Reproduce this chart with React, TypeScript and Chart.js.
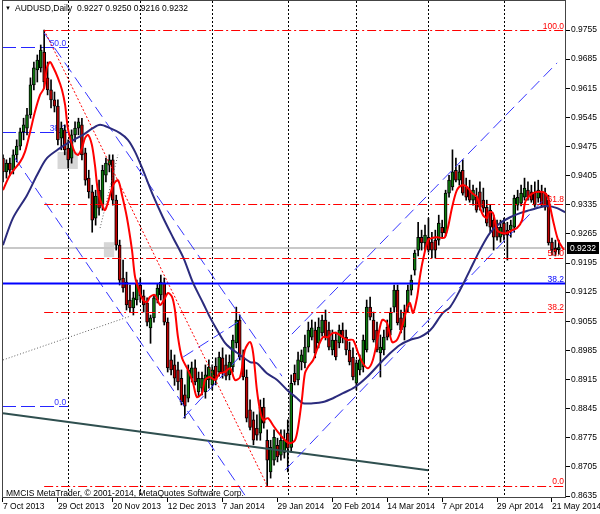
import React, { useEffect, useRef } from 'react';
import { Chart, registerables } from 'chart.js';
Chart.register(...registerables);

// ---------- data ----------
const symbolName = 'AUDUSD,Daily';
const copyright = 'MMCIS MetaTrader, \u00A9 2001-2014, MetaQuotes Software Corp.';

const opens = [
  0.9447,0.9414,0.9435,0.9418,0.9455,0.9476,0.9510,0.9519,0.9551,0.9623,
  0.9659,0.9664,0.9702,0.9640,0.9611,0.9587,0.9572,0.9495,0.9515,0.9471,
  0.9447,0.9503,0.9519,0.9527,0.9460,0.9399,0.9366,0.9303,0.9370,0.9334,
  0.9406,0.9430,0.9443,0.9346,0.9238,0.9159,0.9149,0.9106,0.9087,0.9106,
  0.9142,0.9116,0.9099,0.9039,0.9063,0.9106,0.9118,0.9147,0.9053,0.8962,
  0.8950,0.8938,0.8918,0.8878,0.8870,0.8918,0.8943,0.8885,0.8894,0.8885,
  0.8914,0.8902,0.8947,0.8933,0.8967,0.8950,0.8926,0.8945,0.9003,0.9058,
  0.8969,0.8921,0.8842,0.8818,0.8798,0.8786,0.8849,0.8769,0.8693,0.8721,
  0.8757,0.8733,0.8740,0.8786,0.8752,0.8930,0.8914,0.8957,0.8955,0.8993,
  0.9017,0.9034,0.9003,0.9027,0.9058,0.9034,0.8986,0.9010,0.9003,0.9034,
  0.9017,0.8986,0.8969,0.8906,0.8938,0.8945,0.8986,0.9089,0.9058,0.9034,
  0.8979,0.8986,0.9041,0.9034,0.9089,0.9130,0.9063,0.9041,0.9089,0.9130,
  0.9178,0.9226,0.9257,0.9243,0.9257,0.9245,0.9250,0.9250,0.9281,0.9267,
  0.9363,0.9378,0.9418,0.9394,0.9418,0.9378,0.9370,0.9346,0.9353,0.9366,
  0.9346,0.9329,0.9322,0.9298,0.9281,0.9257,0.9291,0.9274,0.9274,0.9281,
  0.9334,0.9339,0.9353,0.9370,0.9366,0.9363,0.9351,0.9366,0.9363,0.9346,
  0.9245,0.9231,0.9227,
];
const highs = [
  0.9455,0.9443,0.9447,0.9467,0.9491,0.9519,0.9543,0.9567,0.9640,0.9678,
  0.9695,0.9719,0.9755,0.9678,0.9635,0.9606,0.9587,0.9534,0.9527,0.9491,
  0.9515,0.9534,0.9543,0.9543,0.9471,0.9418,0.9382,0.9370,0.9394,0.9430,
  0.9447,0.9455,0.9455,0.9358,0.9250,0.9202,0.9173,0.9142,0.9125,0.9154,
  0.9159,0.9130,0.9111,0.9070,0.9118,0.9144,0.9166,0.9159,0.9063,0.8986,
  0.8974,0.8957,0.8938,0.8902,0.8950,0.8957,0.8962,0.8933,0.8933,0.8950,
  0.8962,0.8950,0.8967,0.8981,0.8991,0.8974,0.8974,0.9022,0.9089,0.9070,
  0.8986,0.8938,0.8866,0.8837,0.8830,0.8866,0.8870,0.8794,0.8769,0.8794,
  0.8774,0.8794,0.8794,0.8818,0.8926,0.8950,0.8981,0.8986,0.9022,0.9053,
  0.9058,0.9053,0.9063,0.9070,0.9082,0.9053,0.9034,0.9029,0.9046,0.9051,
  0.9034,0.9005,0.8991,0.8962,0.8974,0.9022,0.9106,0.9113,0.9077,0.9053,
  0.9022,0.9034,0.9058,0.9087,0.9142,0.9142,0.9082,0.9094,0.9142,0.9166,
  0.9226,0.9293,0.9274,0.9286,0.9303,0.9269,0.9274,0.9310,0.9298,0.9370,
  0.9406,0.9467,0.9447,0.9430,0.9443,0.9399,0.9394,0.9382,0.9375,0.9390,
  0.9375,0.9346,0.9334,0.9310,0.9298,0.9298,0.9303,0.9293,0.9298,0.9358,
  0.9370,0.9382,0.9399,0.9390,0.9382,0.9390,0.9394,0.9382,0.9375,0.9358,
  0.9255,0.9250,0.9250,
];
const lows = [
  0.9390,0.9399,0.9406,0.9409,0.9438,0.9467,0.9491,0.9503,0.9543,0.9611,
  0.9630,0.9654,0.9616,0.9599,0.9568,0.9558,0.9479,0.9467,0.9455,0.9423,
  0.9435,0.9486,0.9503,0.9443,0.9382,0.9351,0.9269,0.9286,0.9310,0.9322,
  0.9390,0.9414,0.9334,0.9226,0.9142,0.9125,0.9082,0.9077,0.9070,0.9094,
  0.9101,0.9077,0.9044,0.9002,0.9053,0.9099,0.9106,0.9046,0.8933,0.8926,
  0.8901,0.8890,0.8854,0.8822,0.8861,0.8909,0.8902,0.8873,0.8878,0.8870,
  0.8894,0.8890,0.8902,0.8923,0.8918,0.8914,0.8914,0.8933,0.8991,0.8962,
  0.8914,0.8813,0.8794,0.8758,0.8769,0.8769,0.8798,0.8660,0.8678,0.8709,
  0.8717,0.8721,0.8726,0.8693,0.8740,0.8902,0.8902,0.8938,0.8943,0.8981,
  0.9010,0.8967,0.8991,0.9019,0.9010,0.8986,0.8974,0.8962,0.8991,0.9003,
  0.8974,0.8950,0.8914,0.8890,0.8926,0.8933,0.8981,0.9058,0.9005,0.8981,
  0.8921,0.8974,0.9010,0.9022,0.9077,0.9046,0.9027,0.9010,0.9077,0.9118,
  0.9166,0.9212,0.9226,0.9226,0.9221,0.9207,0.9207,0.9238,0.9255,0.9260,
  0.9353,0.9370,0.9390,0.9382,0.9358,0.9346,0.9341,0.9334,0.9317,0.9322,
  0.9317,0.9284,0.9269,0.9226,0.9250,0.9245,0.9250,0.9202,0.9257,0.9269,
  0.9322,0.9332,0.9346,0.9346,0.9341,0.9329,0.9341,0.9329,0.9322,0.9238,
  0.9214,0.9212,0.9216,
];
const closes = [
  0.9414,0.9435,0.9418,0.9455,0.9476,0.9510,0.9527,0.9551,0.9623,0.9664,
  0.9683,0.9707,0.9630,0.9611,0.9587,0.9572,0.9491,0.9519,0.9467,0.9443,
  0.9503,0.9519,0.9534,0.9455,0.9394,0.9366,0.9298,0.9356,0.9327,0.9418,
  0.9435,0.9443,0.9346,0.9238,0.9154,0.9135,0.9094,0.9087,0.9111,0.9144,
  0.9116,0.9094,0.9053,0.9063,0.9111,0.9135,0.9149,0.9053,0.8943,0.8938,
  0.8918,0.8909,0.8861,0.8851,0.8938,0.8943,0.8909,0.8918,0.8918,0.8926,
  0.8945,0.8938,0.8914,0.8969,0.8933,0.8923,0.8957,0.9010,0.9058,0.8969,
  0.8921,0.8822,0.8800,0.8769,0.8781,0.8849,0.8810,0.8721,0.8752,0.8776,
  0.8729,0.8769,0.8769,0.8750,0.8906,0.8909,0.8962,0.8974,0.8993,0.9034,
  0.9039,0.8979,0.9041,0.9058,0.9017,0.8993,0.9010,0.8969,0.9034,0.9017,
  0.8986,0.8957,0.8921,0.8955,0.8962,0.9010,0.9089,0.9065,0.9010,0.8986,
  0.8993,0.9017,0.9017,0.9075,0.9130,0.9051,0.9034,0.9075,0.9130,0.9154,
  0.9219,0.9257,0.9243,0.9262,0.9226,0.9226,0.9226,0.9291,0.9267,0.9363,
  0.9394,0.9414,0.9394,0.9414,0.9363,0.9353,0.9346,0.9370,0.9322,0.9329,
  0.9327,0.9291,0.9281,0.9257,0.9257,0.9281,0.9262,0.9262,0.9286,0.9351,
  0.9353,0.9363,0.9375,0.9353,0.9346,0.9334,0.9370,0.9334,0.9329,0.9243,
  0.9226,0.9221,0.9232,
];

// fast MA (red) and slow MA (navy): [bar index, price]
const fastMA = [
  [0,0.9370],[2,0.9406],[5,0.9438],[6.4,0.9462],[7.9,0.9510],[9.3,0.9558],[10.8,0.9599],[12,0.9616],
  [12.8,0.9664],[13.7,0.9678],[14.6,0.9666],[16,0.9640],[17.2,0.9611],[18.1,0.9575],[18.9,0.9519],
  [20.1,0.9479],[21,0.9460],[21.9,0.9455],[23,0.9471],[23.9,0.9495],[24.8,0.9503],[25.9,0.9479],
  [26.8,0.9430],[27.7,0.9366],[28.9,0.9334],[29.7,0.9322],[30.6,0.9341],[32.1,0.9382],[33.5,0.9394],
  [34.7,0.9358],[36.1,0.9305],[37.6,0.9226],[38.5,0.9161],[39.9,0.9123],[40.8,0.9106],[42,0.9101],
  [42.8,0.9113],[44.3,0.9118],[45.8,0.9094],[46.9,0.9106],[48.1,0.9123],[49.3,0.9113],[50.1,0.9082],
  [51,0.9017],[52.2,0.8966],[53.9,0.8938],[55.4,0.8906],[56.5,0.8873],[58,0.8882],[58.9,0.8914],
  [60.3,0.8921],[61.8,0.8914],[63.2,0.8930],[64.7,0.8933],[66.2,0.8942],[67.6,0.8914],[69.1,0.8921],
  [70.5,0.8986],[72,0.9005],[72.9,0.8979],[74,0.8890],[74.9,0.8842],[75.8,0.8818],[77.2,0.8822],
  [78.7,0.8805],[80.2,0.8788],[82.2,0.8769],[83.6,0.8762],[85.1,0.8769],[86,0.8800],[87.1,0.8866],
  [88,0.8930],[88.9,0.8945],[90.4,0.8962],[91.8,0.8993],[93.3,0.9017],[94.7,0.9017],[96.2,0.9027],
  [97.6,0.9025],[100.3,0.9010],[102,0.9010],[103.5,0.8979],[104.9,0.8954],[106.4,0.8942],
  [107.8,0.8962],[109.3,0.9017],[110.5,0.9058],[111.9,0.9051],[113.4,0.9005],[114.8,0.9010],
  [116.3,0.9041],[117.8,0.9089],[118.6,0.9099],[119.5,0.9075],[120.7,0.9113],[121.5,0.9161],
  [122.4,0.9202],[123.9,0.9250],[125,0.9255],[126.5,0.9257],[128,0.9255],[128.8,0.9257],[129.7,0.9281],
  [130.9,0.9329],[132.3,0.9370],[133.8,0.9382],[135.2,0.9378],[136.7,0.9363],[138.2,0.9353],
  [139,0.9329],[139.9,0.9310],[141.1,0.9303],[141.6,0.9317],[142.8,0.9315],[144,0.9274],[145.4,0.9267],
  [146.9,0.9267],[148.4,0.9274],[149.8,0.9279],[151.3,0.9298],[152.1,0.9339],[153,0.9353],[154.5,0.9363],
  [156.5,0.9366],[158,0.9363],[158.8,0.9353],[160.3,0.9298],[161.8,0.9250],[163.5,0.9226],
];
const slowMA = [
  [0,0.9238],[2.9,0.9303],[7,0.9358],[9.9,0.9406],[12.8,0.9447],[16.6,0.9471],[19.5,0.9486],
  [23.3,0.9503],[26.2,0.9519],[28.3,0.9527],[31.2,0.9519],[34.1,0.9507],[36.4,0.9491],[38.5,0.9462],
  [40.8,0.9418],[43.7,0.9358],[46.6,0.9305],[49.5,0.9257],[52.5,0.9209],[55.4,0.9147],[58.3,0.9099],
  [60.3,0.9065],[62.4,0.9034],[64.7,0.9003],[66.2,0.8991],[69.1,0.8974],[72,0.8957],[74,0.8954],
  [76.9,0.8930],[79.9,0.8914],[82.8,0.8890],[85.7,0.8870],[87.4,0.8858],[90.4,0.8858],[93.3,0.8861],
  [96.2,0.8870],[99.1,0.8882],[102.6,0.8897],[106.1,0.8921],[109.9,0.8954],[112.8,0.8978],
  [115.7,0.8998],[118.6,0.9010],[121.5,0.9017],[123.6,0.9027],[125.3,0.9041],[128.2,0.9075],
  [130.3,0.9089],[133.2,0.9130],[136.1,0.9178],[139,0.9226],[141.9,0.9267],[144.9,0.9291],
  [147.8,0.9305],[150.7,0.9315],[153.6,0.9322],[156.5,0.9329],[158.6,0.9332],[161.5,0.9327],[163.8,0.9317],
];

// axes
const dateTickIndex = [0,16,32,48,64,80,96,112,128,144,160];
const dateTickLabels = ['7 Oct 2013','29 Oct 2013','20 Nov 2013','12 Dec 2013','7 Jan 2014','29 Jan 2014',
  '20 Feb 2014','14 Mar 2014','7 Apr 2014','29 Apr 2014','21 May 2014'];
const monthStartIndex = [19,40,61,83,103,124,146];
const priceTicks = [0.9755,0.9685,0.9615,0.9545,0.9475,0.9405,0.9335,0.9265,0.9195,0.9125,0.9055,
  0.8985,0.8915,0.8845,0.8775,0.8705,0.8635];
const X_MIN = -0.29, X_MAX = 164.09;
const Y_MIN = 0.86302, Y_MAX = 0.98247;

// drawn objects
const redFiboStart = 12;
const redFiboPrices = [0.9755,0.9337,0.9208,0.9078,0.8660];
const redFiboTexts = ['100.0','61.8','50.0','38.2','0.0'];
const redFiboTrend = [12,0.9755,77,0.8660];
const blueFiboEnd = 19;
const blueFiboPrices = [0.9714,0.9510,0.8851];
const blueFiboTexts = ['50.0','38.2','0.0'];
const blueLevelPrice = 0.9146;
const blueLevelText = '38.2';
const channelLines = [
  [12,0.9748,81.3,0.8923],
  [3.5,0.9447,70.5,0.8637],
  [52.5,0.8969,68.5,0.9053],
  [52.5,0.8822,69.1,0.8971],
  [84.2,0.9024,161.5,0.9676],
  [82.2,0.8697,158.0,0.9351],
];
const dottedLines = [
  [0,0.8962,37,0.9067],
  [28.3,0.9279,33.5,0.9455],
];
const solidLine = [0,0.8834,123.9,0.8697];
const grayBoxes = [
  [15.9,0.9462,21.8,0.9421],
  [29.4,0.9245,32.4,0.9209],
];

const FONT = '"Liberation Sans", Arial, sans-serif';
const FS = 8.5;

function seg(s: number[], color: string, dash: number[], width: number, order: number) {
  return {
    type: 'line' as const,
    data: [{ x: s[0], y: s[1] }, { x: s[2], y: s[3] }],
    borderColor: color, borderDash: dash, borderWidth: width,
    pointRadius: 0, fill: false, tension: 0, order,
  };
}

function hLine(ctx: any, x1: number, x2: number, py: number, color: string, dash: number[], width: number) {
  const yy = Math.round(py) + (width % 2 === 1 ? 0.5 : 0);
  ctx.save();
  ctx.strokeStyle = color;
  ctx.lineWidth = width;
  ctx.setLineDash(dash);
  ctx.beginPath();
  ctx.moveTo(x1, yy);
  ctx.lineTo(x2, yy);
  ctx.stroke();
  ctx.restore();
}

const mt4Plugin = {
  id: 'mt4',
  beforeDatasetsDraw(chart: any) {
    const { ctx, chartArea: a, scales } = chart;
    const x = scales.x, y = scales.y;
    ctx.save();
    // monthly dotted separators
    ctx.strokeStyle = '#000';
    ctx.lineWidth = 1;
    ctx.setLineDash([2, 2]);
    for (const m of monthStartIndex) {
      const px = Math.round(x.getPixelForValue(m)) + 0.5;
      ctx.beginPath(); ctx.moveTo(px, a.top); ctx.lineTo(px, a.bottom); ctx.stroke();
    }
    ctx.setLineDash([]);
    ctx.fillStyle = '#d6d6d6';
    for (const b of grayBoxes) {
      const x1 = x.getPixelForValue(b[0]), x2 = x.getPixelForValue(b[2]);
      const y1 = y.getPixelForValue(b[1]), y2 = y.getPixelForValue(b[3]);
      ctx.fillRect(x1, y1, x2 - x1, y2 - y1);
    }
    hLine(ctx, a.left, a.right, y.getPixelForValue(closes[closes.length - 1]), '#c8c8c8', [], 2);
    // blue fibo (background object)
    const bxEnd = x.getPixelForValue(blueFiboEnd);
    blueFiboPrices.forEach(p => hLine(ctx, a.left, bxEnd, y.getPixelForValue(p), '#2525ff', [14, 5], 1));
    ctx.font = `${FS}px ${FONT}`;
    ctx.fillStyle = '#3030ff';
    ctx.textAlign = 'right';
    ctx.textBaseline = 'alphabetic';
    blueFiboPrices.forEach((p, i) => ctx.fillText(blueFiboTexts[i], bxEnd - 2, y.getPixelForValue(p) - 1));
    ctx.restore();
  },
  afterDatasetsDraw(chart: any) {
    const { ctx, chartArea: a, scales } = chart;
    const x = scales.x, y = scales.y;
    ctx.save();
    // red fibo levels
    const rx = x.getPixelForValue(redFiboStart);
    redFiboPrices.forEach(p => hLine(ctx, rx, a.right, y.getPixelForValue(p), '#ff0000', [9, 3, 2, 3], 1));
    ctx.font = `${FS}px ${FONT}`;
    ctx.textAlign = 'right';
    ctx.textBaseline = 'alphabetic';
    ctx.fillStyle = '#ff0000';
    redFiboPrices.forEach((p, i) => ctx.fillText(redFiboTexts[i], a.right - 2, y.getPixelForValue(p) - 1.5));
    ctx.fillStyle = '#0000ff';
    ctx.fillText(blueLevelText, a.right - 2, y.getPixelForValue(blueLevelPrice) - 1.5);
    // frame
    ctx.strokeStyle = '#444';
    ctx.lineWidth = 1;
    ctx.strokeRect(a.left + 0.5, a.top - 0.5, a.right - a.left - 1, a.bottom - a.top);
    // header
    const n = closes.length - 1;
    ctx.textAlign = 'left';
    ctx.textBaseline = 'middle';
    ctx.fillStyle = '#000';
    ctx.font = `6px ${FONT}`;
    ctx.fillText('\u25BC', 5, 8.5);
    ctx.font = `${FS}px ${FONT}`;
    ctx.fillText(symbolName, 15, 8.5);
    ctx.fillText([opens[n], highs[n], lows[n], closes[n]].map(v => v.toFixed(4)).join(' '), 77, 8.5);
    ctx.fillText(copyright, 6, 493.5);
    // bid label
    const py = Math.round(y.getPixelForValue(closes[n]));
    ctx.fillStyle = '#000';
    ctx.fillRect(a.right + 1, py - 6, 32, 12);
    ctx.fillStyle = '#fff';
    ctx.fillText(closes[n].toFixed(4), a.right + 4, py + 0.5);
    ctx.restore();
  },
};

export default function App() {
  const ref = useRef<HTMLCanvasElement | null>(null);
  useEffect(() => {
    if (!ref.current) return;
    const idx = closes.map((_, i) => i);
    const datasets: any[] = [];
    datasets.push({
      type: 'bar', data: idx.map(i => ({ x: i, y: [lows[i], highs[i]] })),
      backgroundColor: '#000', barThickness: 1, grouped: false, order: 12,
    });
    datasets.push({
      type: 'bar', data: idx.map(i => ({ x: i, y: [opens[i], closes[i]] })),
      backgroundColor: idx.map(i => (closes[i] >= opens[i] ? '#0d7a0d' : '#c00000')),
      borderColor: '#000', borderWidth: 1, borderSkipped: false, barThickness: 3, grouped: false, order: 11,
    });
    datasets.push(seg(solidLine, '#2f4f4f', [], 2, 6));
    dottedLines.forEach(s => datasets.push(seg(s, '#606060', [1, 2], 1, 6)));
    channelLines.forEach(s => datasets.push(seg(s, '#3535ff', [12, 6], 1, 5)));
    datasets.push(seg(redFiboTrend, '#ff0000', [2, 2], 1, 4));
    datasets.push(seg([X_MIN, blueLevelPrice, X_MAX, blueLevelPrice], '#0000ff', [], 2, 3));
    datasets.push({
      type: 'line', data: slowMA.map(p => ({ x: p[0], y: p[1] })), borderColor: '#2b2b7d',
      borderWidth: 2, pointRadius: 0, fill: false, tension: 0.3, order: 2,
    });
    datasets.push({
      type: 'line', data: fastMA.map(p => ({ x: p[0], y: p[1] })), borderColor: '#ff0000',
      borderWidth: 2, pointRadius: 0, fill: false, tension: 0.3, order: 1,
    });
    const font = { family: FONT, size: FS };
    const chart = new Chart(ref.current, {
      type: 'bar',
      data: { datasets },
      plugins: [mt4Plugin],
      options: {
        responsive: false, animation: false, events: [],
        layout: { padding: { left: 2, top: 1, right: 0, bottom: 0 } },
        plugins: { legend: { display: false }, tooltip: { enabled: false }, title: { display: false } },
        scales: {
          x: {
            type: 'linear', min: X_MIN, max: X_MAX, bounds: 'data', offset: false, position: 'bottom',
            afterBuildTicks: (s: any) => { s.ticks = dateTickIndex.map(v => ({ value: v })); },
            afterFit: (s: any) => { s.height = 16; s.paddingLeft = 0; s.paddingRight = 0; },
            ticks: {
              autoSkip: false, maxRotation: 0, minRotation: 0, align: 'start', padding: 0, color: '#000', font,
              callback: (_v: any, i: number) => dateTickLabels[i],
            },
            grid: { offset: false, drawOnChartArea: false, drawTicks: true, tickLength: 4, color: '#000' },
            border: { display: false },
          },
          y: {
            type: 'linear', position: 'right', min: Y_MIN, max: Y_MAX, bounds: 'data', beginAtZero: false,
            afterBuildTicks: (s: any) => { s.ticks = priceTicks.map(v => ({ value: v })); },
            afterFit: (s: any) => { s.width = 34; s.paddingTop = 0; s.paddingBottom = 0; },
            ticks: { color: '#000', font, padding: 1, callback: (v: any) => Number(v).toFixed(4) },
            grid: { drawOnChartArea: false, drawTicks: true, tickLength: 4, color: '#000' },
            border: { display: false },
          },
        },
      } as any,
    });
    return () => chart.destroy();
  }, []);
  return (
    <div style={{ position: 'absolute', left: 0, top: 0, width: 600, height: 514, background: '#fff' }}>
      <canvas ref={ref} width={600} height={514} style={{ display: 'block' }} />
    </div>
  );
}
